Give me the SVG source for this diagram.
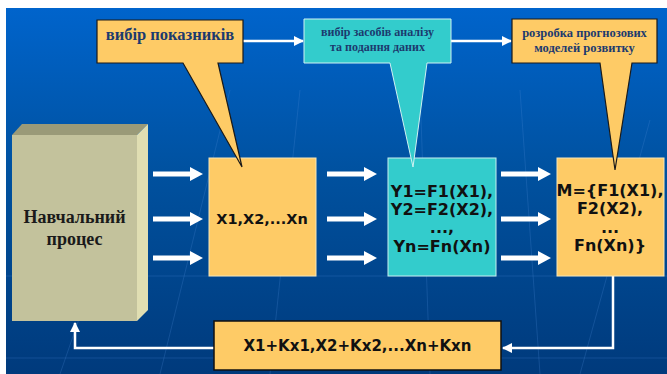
<svg xmlns="http://www.w3.org/2000/svg" width="667" height="374" viewBox="0 0 667 374">
  <defs>
    <linearGradient id="bg" x1="0" y1="0" x2="0" y2="1">
      <stop offset="0" stop-color="#0064cc"/>
      <stop offset="0.45" stop-color="#00519f"/>
      <stop offset="1" stop-color="#003a7c"/>
    </linearGradient>
    <!-- wide white arrow used between the main blocks -->
    <path id="fat" d="M0,-2.5 H37 V-7 L50,0 L37,7 V2.5 H0 Z" fill="#ffffff"/>
    <marker id="tip" viewBox="0 0 10 10" refX="9" refY="5" markerWidth="4" markerHeight="4" orient="auto" markerUnits="strokeWidth">
      <path d="M0,0 L10,5 L0,10 Z" fill="#ffffff"/>
    </marker>
    <style>
      .serif { font-family: "Liberation Serif", "Times New Roman", serif; font-weight: bold; }
      .sans { font-family: "DejaVu Sans", Verdana, sans-serif; font-weight: bold; fill: #111111; }
      .note { fill: #1c3a6e; text-anchor: middle; }
      .yellow { fill: #fecb66; }
      .cyan { fill: #33cccc; }
      .line { fill: none; stroke: #ffffff; stroke-width: 2.5; }
      .faint { stroke: #4a8ad8; stroke-opacity: 0.25; stroke-width: 1; fill: none; }
    </style>
  </defs>

  <!-- background -->
  <rect x="6" y="8" width="661" height="366" fill="url(#bg)"/>
  <g class="faint">
    <line x1="6" y1="358" x2="667" y2="358"/>
    <line x1="6" y1="276" x2="667" y2="276"/>
    <line x1="160" y1="374" x2="230" y2="90"/>
    <line x1="270" y1="374" x2="300" y2="90"/>
    <line x1="430" y1="374" x2="420" y2="90"/>
    <line x1="540" y1="374" x2="520" y2="90"/>
    <line x1="580" y1="374" x2="650" y2="120"/>
    <line x1="60" y1="374" x2="120" y2="200"/>
  </g>

  <!-- connectors -->
  <g id="connectors">
    <use href="#fat" x="153" y="174"/>
    <use href="#fat" x="153" y="219"/>
    <use href="#fat" x="153" y="258"/>
    <use href="#fat" x="327" y="174"/>
    <use href="#fat" x="327" y="219"/>
    <use href="#fat" x="327" y="258"/>
    <use href="#fat" x="501" y="174"/>
    <use href="#fat" x="501" y="219"/>
    <use href="#fat" x="501" y="258"/>
    <line class="line" x1="243" y1="41" x2="303" y2="41" marker-end="url(#tip)"/>
    <line class="line" x1="451" y1="41" x2="511" y2="41" marker-end="url(#tip)"/>
    <polyline class="line" points="613,276 613,348 503,348" marker-end="url(#tip)"/>
    <polyline class="line" points="214,348 75,348 75,323" marker-end="url(#tip)"/>
  </g>

  <!-- learning process block (3D) -->
  <g id="process">
    <polygon points="12,135 22,124 148,124 137,135" fill="#9a9a78"/>
    <polygon points="137,135 148,124 148,310 137,321" fill="#e0deb2"/>
    <rect x="12" y="135" width="125" height="186" fill="#c3c29c"/>
    <text class="serif" x="74.5" y="223" font-size="18" fill="#1a1a1a" text-anchor="middle">Навчальний</text>
    <text class="serif" x="74.5" y="245" font-size="18" fill="#1a1a1a" text-anchor="middle">процес</text>
  </g>

  <g id="indicators">
    <rect class="yellow" x="209" y="158" width="107" height="118" stroke="#f6e6b8" stroke-width="1"/>
    <text class="sans" x="262" y="224" font-size="14.5" text-anchor="middle">X1,X2,...Xn</text>
  </g>

  <g id="functions">
    <rect class="cyan" x="388" y="158" width="108" height="118" stroke="#c8f0f0" stroke-width="1"/>
    <g class="sans" font-size="16" text-anchor="middle">
      <text x="442" y="197">Y1=F1(X1),</text>
      <text x="442" y="215">Y2=F2(X2),</text>
      <text x="442" y="233">...,</text>
      <text x="442" y="252">Yn=Fn(Xn)</text>
    </g>
  </g>

  <g id="model">
    <rect class="yellow" x="557" y="158" width="107" height="118" stroke="#f6e6b8" stroke-width="1"/>
    <g class="sans" font-size="16" text-anchor="middle">
      <text x="610" y="196">M={F1(X1),</text>
      <text x="610" y="214">F2(X2),</text>
      <text x="610" y="233">...</text>
      <text x="610" y="251">Fn(Xn)}</text>
    </g>
  </g>

  <g id="corrections">
    <rect class="yellow" x="214" y="321" width="287" height="49" stroke="#111111" stroke-width="1.5"/>
    <text class="sans" x="357.5" y="351" font-size="15" text-anchor="middle">X1+Kx1,X2+Kx2,...Xn+Kxn</text>
  </g>

  <!-- callouts -->
  <g id="callout-indicators">
    <path class="yellow" d="M97,20 H243 V63 H218 L242,167 L183,63 H97 Z" stroke="#1a1a1a" stroke-width="1.2" stroke-linejoin="miter"/>
    <text class="serif note" x="170" y="40" font-size="16.5">вибір показників</text>
  </g>

  <g id="callout-analysis">
    <path class="cyan" d="M304,19 H451 V63 H427 L413,167 L390,63 H304 Z" stroke="#d0f2f2" stroke-width="1"/>
    <text class="serif note" x="377.5" y="36" font-size="12">вибір засобів аналізу</text>
    <text class="serif note" x="377.5" y="51" font-size="12">та подання даних</text>
  </g>

  <g id="callout-models">
    <path class="yellow" d="M512,19 H657 V63 H632 L615,170 L600,63 H512 Z" stroke="#1a1a1a" stroke-width="1.2"/>
    <text class="serif note" x="584.5" y="36.5" font-size="12.5">розробка прогнозових</text>
    <text class="serif note" x="584.5" y="52" font-size="12.5">моделей розвитку</text>
  </g>
</svg>
